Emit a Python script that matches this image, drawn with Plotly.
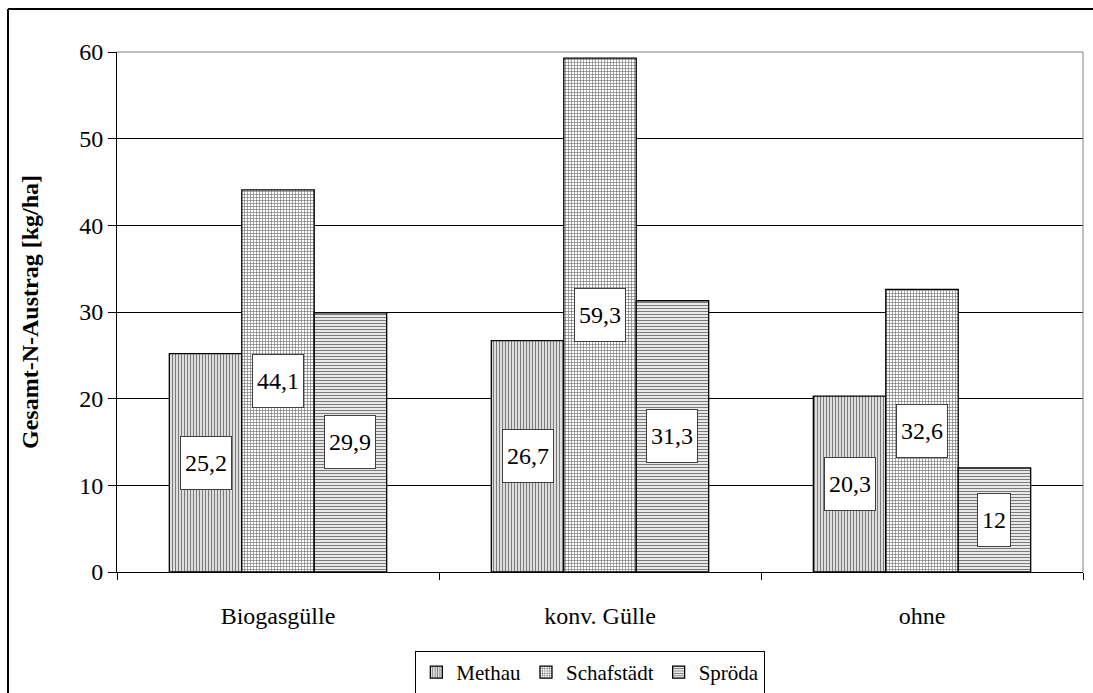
import plotly.graph_objects as go

categories = ["Biogasgülle", "konv. Gülle", "ohne"]
series_names = ["Methau", "Schafstädt", "Spröda"]
methau = [25.2, 26.7, 20.3]
schafstaedt = [44.1, 59.3, 32.6]
sproeda = [29.9, 31.3, 12]

y_ticks = [0, 10, 20, 30, 40, 50, 60]

FONT = "Liberation Serif"
FS = 24

patterns = ["|", "+", "-"]
solidities = [0.5, 0.4, 0.45]
series_values = [methau, schafstaedt, sproeda]

fig = go.Figure()
for name, vals, shp, sol in zip(series_names, series_values, patterns, solidities):
    fig.add_trace(go.Bar(
        name=name,
        x=categories,
        y=vals,
        marker=dict(
            color="white",
            line=dict(color="black", width=1.3),
            pattern=dict(shape=shp, size=3, solidity=sol,
                         fgcolor="#7a7a7a", bgcolor="white", fillmode="replace"),
        ),
    ))

def fmt(v):
    return f"{v:g}".replace(".", ",")

# value labels: white boxes centred in each bar
n = len(series_names)
bar_w = (1 - 0.325) / n
annotations = []
for si, vals in enumerate(series_values):
    off = (si - (n - 1) / 2) * bar_w
    for ci, v in enumerate(vals):
        annotations.append(dict(
            x=ci + off, y=v / 2, xref="x", yref="y",
            text=fmt(v), showarrow=False,
            font=dict(family=FONT, size=FS, color="black"),
            bgcolor="white", bordercolor="#404040", borderwidth=1,
            borderpad=4, height=44,
        ))

fig.update_layout(
    barmode="group",
    bargap=0.325,
    bargroupgap=0,
    width=1093, height=693,
    margin=dict(l=117, r=10, t=52, b=121, autoexpand=False),
    paper_bgcolor="white",
    plot_bgcolor="white",
    font=dict(family=FONT, size=FS, color="black"),
    annotations=annotations,
    showlegend=True,
    legend=dict(
        orientation="h", x=0.49, xanchor="center", y=-0.152, yanchor="top",
        bordercolor="black", borderwidth=1, bgcolor="white",
        font=dict(family=FONT, size=21, color="black"),
        itemwidth=30, tracegroupgap=0,
    ),
    xaxis=dict(
        type="category",
        showgrid=False,
        showline=True, linecolor="black", linewidth=1,
        ticks="outside", tickson="boundaries", ticklen=7, tickcolor="black",
        tickfont=dict(family=FONT, size=FS),
        ticklabelstandoff=22,
    ),
    yaxis=dict(
        range=[0, 60],
        tickvals=y_ticks,
        showgrid=True, gridcolor="black", gridwidth=1,
        showline=True, linecolor="black", linewidth=1,
        ticks="outside", ticklen=8, tickcolor="black",
        tickfont=dict(family=FONT, size=FS),
        title=dict(text="<b>Gesamt-N-Austrag [kg/ha]</b>",
                   font=dict(family=FONT, size=FS), standoff=33),
        zeroline=False,
    ),
    shapes=[
        # plot-area frame on top and right
        dict(type="line", xref="paper", yref="paper", x0=0, x1=1, y0=1, y1=1,
             line=dict(color="#808080", width=1)),
        dict(type="line", xref="paper", yref="paper", x0=1, x1=1, y0=0, y1=1,
             line=dict(color="#808080", width=1)),
        # outer chart border (top and left)
        dict(type="line", xref="paper", yref="paper",
             x0=-109 / 966, x1=1.2, y0=1 + 43 / 520, y1=1 + 43 / 520,
             line=dict(color="black", width=2)),
        dict(type="line", xref="paper", yref="paper",
             x0=-109 / 966, x1=-109 / 966, y0=-0.5, y1=1 + 43 / 520,
             line=dict(color="black", width=2)),
    ],
)

fig.write_html("out.html")
